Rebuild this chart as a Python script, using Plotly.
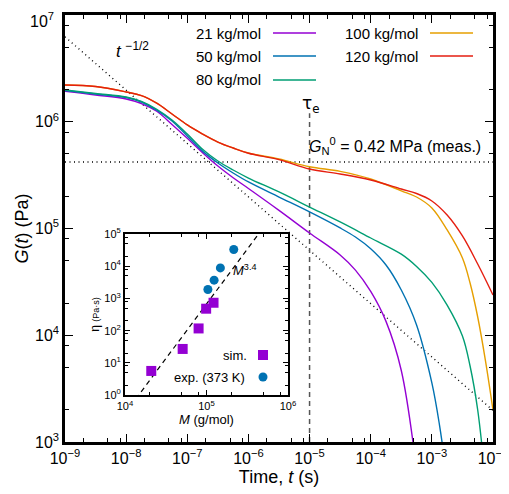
import numpy as np
import plotly.graph_objects as go

# ---- main panel data (log10 of t in s, log10 of G in Pa) ----
series_names = ["21 kg/mol", "50 kg/mol", "80 kg/mol", "100 kg/mol", "120 kg/mol"]
series_colors = ["#9400d3", "#0072b2", "#009e73", "#e69f00", "#e51e10"]

logt_21 = [-9, -8.5, -8, -7.75, -7.5, -7.25, -7, -6.75, -6.5, -6.25, -6, -5.5, -5, -4.5, -4.25, -4, -3.75, -3.5, -3.25]
logG_21 = [6.285, 6.251, 6.213, 6.170, 6.098, 5.975, 5.845, 5.710, 5.585, 5.475, 5.375, 5.170, 4.958, 4.752, 4.610, 4.410, 4.130, 3.670, 2.738]

logt_50 = [-9, -8.5, -8, -7.75, -7.5, -7.25, -7, -6.75, -6.5, -6.25, -6, -5.5, -5, -4.5, -4.25, -4, -3.75, -3.5, -3.25, -3, -2.875, -2.75]
logG_50 = [6.293, 6.260, 6.227, 6.185, 6.108, 6.007, 5.867, 5.725, 5.614, 5.520, 5.436, 5.295, 5.155, 5.005, 4.920, 4.810, 4.658, 4.424, 4.096, 3.553, 3.159, 2.644]

logt_80 = [-9, -8.5, -8, -7.75, -7.5, -7.25, -7, -6.75, -6.5, -6.25, -6, -5.5, -5, -4.5, -4, -3.5, -3.25, -3, -2.75, -2.5, -2.375, -2.25, -2.125]
logG_80 = [6.297, 6.265, 6.232, 6.190, 6.117, 6.016, 5.885, 5.742, 5.632, 5.548, 5.473, 5.342, 5.201, 5.061, 4.911, 4.760, 4.645, 4.495, 4.283, 3.993, 3.712, 3.300, 2.644]

logt_100 = [-9, -8.5, -8, -7.75, -7.5, -7.25, -7, -6.75, -6.5, -6.25, -6, -5.5, -5, -4.5, -4, -3.5, -3.25, -3, -2.75, -2.5, -2.375, -2.25, -2.125, -2]
logG_100 = [6.344, 6.330, 6.279, 6.245, 6.174, 6.073, 5.970, 5.885, 5.810, 5.754, 5.707, 5.651, 5.579, 5.535, 5.464, 5.353, 5.295, 5.192, 4.986, 4.724, 4.489, 4.171, 3.768, 3.300]

logt_120 = [-9, -8.5, -8, -7.75, -7.5, -7.25, -7, -6.75, -6.5, -6.25, -6, -5.5, -5, -4.5, -4, -3.5, -3.25, -3, -2.75, -2.5, -2.25, -2]
logG_120 = [6.344, 6.330, 6.279, 6.245, 6.174, 6.073, 5.970, 5.885, 5.810, 5.754, 5.705, 5.645, 5.557, 5.511, 5.454, 5.370, 5.328, 5.258, 5.126, 4.930, 4.667, 4.377]

curves_logt = [logt_21, logt_50, logt_80, logt_100, logt_120]
curves_logG = [logG_21, logG_50, logG_80, logG_100, logG_120]

# guide lines
GN0 = 0.42e6          # Pa, measured plateau modulus
tau_e = 1e-5          # s
rouse_prefactor = 10 ** 6.796   # G at t = 1e-9 s for the t^-1/2 line
t_span = [1e-9, 1e-2]

# ---- inset data ----
M_sim = [21e3, 51e3, 80e3, 99e3, 122e3]
eta_sim = [5.6, 27, 117, 480, 735]
M_exp = [104e3, 124e3, 148e3, 216e3]
eta_exp = [1900, 3700, 8900, 33000]
eta_law_logA = -14.173   # eta = 10^logA * M^3.4
M_span = [1e4, 1e6]

# ---- tick labels ----
x_tickvals = [10.0 ** k for k in range(-9, -1)]
x_ticktext = ["10<sup>−9</sup>", "10<sup>−8</sup>", "10<sup>−7</sup>", "10<sup>−6</sup>",
              "10<sup>−5</sup>", "10<sup>−4</sup>", "10<sup>−3</sup>", "10<sup>−2</sup>"]
y_tickvals = [1e3, 1e4, 1e5, 1e6, 1e7]
y_ticktext = ["10<sup>3</sup>", "10<sup>4</sup>", "10<sup>5</sup>", "10<sup>6</sup>", "10<sup>7</sup>"]
ix_tickvals = [1e4, 1e5, 1e6]
ix_ticktext = ["10<sup>4</sup>", "10<sup>5</sup>", "10<sup>6</sup>"]
iy_tickvals = [1e0, 1e1, 1e2, 1e3, 1e4, 1e5]
iy_ticktext = ["10<sup>0</sup>", "10<sup>1</sup>", "10<sup>2</sup>", "10<sup>3</sup>", "10<sup>4</sup>", "10<sup>5</sup>"]

def minor_vals(lo, hi):
    return [m * 10.0 ** k for k in range(lo, hi) for m in (2, 5, 8)]

FONT = "Liberation Sans, Arial, sans-serif"
DOT = "1px,3.5px"
fig = go.Figure()

# guide: t^-1/2
t_g = np.array(t_span)
fig.add_trace(go.Scatter(x=t_g, y=rouse_prefactor * (t_g / 1e-9) ** -0.5, mode="lines",
                         line=dict(color="black", width=1.4, dash=DOT), showlegend=False))
# guide: plateau
fig.add_trace(go.Scatter(x=t_span, y=[GN0, GN0], mode="lines",
                         line=dict(color="black", width=1.4, dash=DOT), showlegend=False))
# guide: tau_e
fig.add_trace(go.Scatter(x=[tau_e, tau_e], y=[1e3, 1.2e6], mode="lines",
                         line=dict(color="#555555", width=1.5, dash="5px,4px"), showlegend=False))

for name, col, lt, lg in zip(series_names, series_colors, curves_logt, curves_logG):
    fig.add_trace(go.Scatter(x=10 ** np.array(lt, dtype=float), y=10 ** np.array(lg), mode="lines",
                             line=dict(color=col, width=1.4, shape="spline", smoothing=1.0),
                             name=name, showlegend=False))

# inset traces
M_l = np.array(M_span)
fig.add_trace(go.Scatter(x=M_l, y=10 ** eta_law_logA * M_l ** 3.4, mode="lines",
                         line=dict(color="black", width=1.2, dash="5px,4px"),
                         xaxis="x2", yaxis="y2", showlegend=False))
fig.add_trace(go.Scatter(x=M_sim, y=eta_sim, mode="markers",
                         marker=dict(symbol="square", size=10, color="#9400d3"),
                         xaxis="x2", yaxis="y2", showlegend=False))
fig.add_trace(go.Scatter(x=M_exp, y=eta_exp, mode="markers",
                         marker=dict(symbol="circle", size=9, color="#0072b2"),
                         xaxis="x2", yaxis="y2", showlegend=False))

axis_common = dict(showline=True, linecolor="black", mirror="allticks", ticks="inside",
                   tickcolor="black", showgrid=False, zeroline=False, automargin=False,
                   ticklabeloverflow="allow")

# the top y label is drawn as an annotation so that it is not clipped at the page top
y_ticktext_axis = y_ticktext[:-1] + [""]

fig.update_layout(
    width=501, height=486,
    margin=dict(l=57, r=16, t=7, b=52),
    paper_bgcolor="white", plot_bgcolor="white",
    font=dict(family=FONT, color="black"),
    xaxis=dict(type="log", range=[-9, -2], tickvals=x_tickvals, ticktext=x_ticktext,
               linewidth=2.5, ticklen=8, tickwidth=1.2, tickfont=dict(size=16),
               minor=dict(tickmode="array", tickvals=minor_vals(-9, -2), ticks="inside",
                          ticklen=4, tickcolor="black", showgrid=False),
               title=dict(text="Time, <i>t</i> (s)", font=dict(size=18), standoff=4),
               **axis_common),
    yaxis=dict(type="log", range=[3, 7], tickvals=y_tickvals, ticktext=y_ticktext_axis,
               linewidth=2.5, ticklen=8, tickwidth=1.2, tickfont=dict(size=16),
               minor=dict(tickmode="array", tickvals=minor_vals(3, 7), ticks="inside",
                          ticklen=4, tickcolor="black", showgrid=False),
               title=dict(text="<i>G</i>(<i>t</i>) (Pa)", font=dict(size=18), standoff=2),
               **axis_common),
    xaxis2=dict(type="log", range=[4, 6], domain=[0.1402, 0.521], anchor="y2",
                tickvals=ix_tickvals, ticktext=ix_ticktext, tickfont=dict(size=11),
                linewidth=2, ticklen=5, tickwidth=1,
                minor=dict(tickmode="array", tickvals=minor_vals(4, 6), ticks="inside",
                           ticklen=3, tickcolor="black", showgrid=False),
                title=dict(text="<i>M</i> (g/mol)", font=dict(size=13), standoff=2),
                **axis_common),
    yaxis2=dict(type="log", range=[0, 5], domain=[0.110, 0.487], anchor="x2",
                tickvals=iy_tickvals, ticktext=iy_ticktext, tickfont=dict(size=11),
                linewidth=2, ticklen=5, tickwidth=1,
                minor=dict(tickmode="array", tickvals=minor_vals(0, 5), ticks="inside",
                           ticklen=3, tickcolor="black", showgrid=False),
                title=dict(text="η <span style='font-size:9px'>(Pa·s)</span>", font=dict(size=12), standoff=2),
                **axis_common),
)

def px(xp):
    return (xp - 65) / 428.0

def py(yp):
    return (442 - yp) / 427.0

def label(xp, yp, text, size, xanchor="center", family=None, yanchor="middle"):
    f = dict(size=size)
    if family:
        f["family"] = family
    return dict(x=px(xp), y=py(yp), xref="paper", yref="paper", text=text, showarrow=False,
                xanchor=xanchor, yanchor=yanchor, font=f)

annos = []
shapes = []
# top y tick label
annos.append(label(56, 8, y_ticktext[-1], 16, xanchor="right", yanchor="top"))
# main legend (text right-aligned, sample line on right)
legend_rows = [(0, 33), (0, 56), (0, 80), (1, 33), (1, 56)]
col_text_right = [263, 420]
col_line = [(273, 316), (430, 473)]
for (c, yrow), name, col in zip(legend_rows, series_names, series_colors):
    annos.append(label(col_text_right[c], yrow, name, 15, xanchor="right"))
    shapes.append(dict(type="line", xref="paper", yref="paper",
                       x0=px(col_line[c][0]), x1=px(col_line[c][1]), y0=py(yrow), y1=py(yrow),
                       line=dict(color=col, width=1.4)))

annos.append(label(132, 50, "<i>t</i> <sup>−1/2</sup>", 17))
annos.append(label(311, 104, "τ<sub>e</sub>", 17, family="DejaVu Sans"))
annos.append(label(483, 146, "<i>G</i><sub>N</sub><sup>0</sup> = 0.42 MPa (meas.)", 16, xanchor="right"))
# inset labels
annos.append(label(245, 270, "<i>M</i><sup>3.4</sup>", 13))
annos.append(label(249, 355, "sim.", 13, xanchor="right"))
annos.append(label(247, 377, "exp. (373 K)", 13, xanchor="right"))
shapes.append(dict(type="rect", xref="paper", yref="paper",
                   x0=px(258), x1=px(268), y0=py(360), y1=py(350),
                   fillcolor="#9400d3", line=dict(width=0)))
shapes.append(dict(type="circle", xref="paper", yref="paper",
                   x0=px(258.5), x1=px(267.5), y0=py(381.5), y1=py(372.5),
                   fillcolor="#0072b2", line=dict(width=0)))

fig.update_layout(annotations=annos, shapes=shapes)
fig.write_html("out.html")
